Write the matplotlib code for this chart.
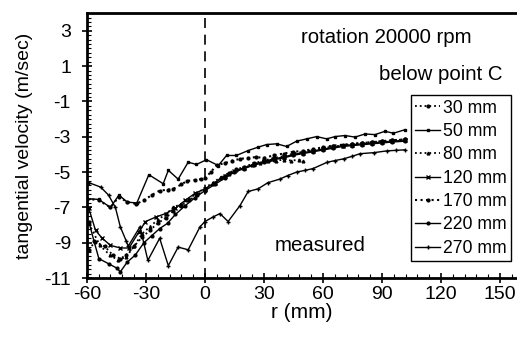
import matplotlib
matplotlib.use('Agg')
import matplotlib.pyplot as plt
from matplotlib.ticker import MultipleLocator

plt.rcParams['font.family'] = ['Liberation Sans', 'DejaVu Sans']
plt.rcParams['axes.unicode_minus'] = False

# 30 mm - dotted, dot markers
x30 = [-59, -55.9, -51, -46.8, -43, -40, -36, -32, -28, -24, -20, -16, -12, -8, -4, 0, 4, 8, 12, 16, 20,
       25, 30, 35, 40, 45, 50, 55, 60, 65, 70, 75, 80, 85, 90, 95, 101.7]
y30 = [-9.4, -8.95, -9.2, -9.7, -9.9, -9.7, -9.2, -8.7, -8.3, -7.9, -7.6, -7.2, -6.9, -6.6, -6.3, -6.0, -5.7,
       -5.35, -5.05, -4.85, -4.7, -4.5, -4.35, -4.2, -4.1, -3.95, -3.85, -3.75, -3.65, -3.55, -3.5, -3.4,
       -3.35, -3.3, -3.25, -3.2, -3.15]

# 50 mm - solid, small markers (top curve)
x50 = [-60, -54, -48, -43.7, -39.5, -34.6, -28.5, -21.2, -18.6, -13.6, -8.5, -4.3, 0.8, 6.8, 11, 16, 22, 27,
       31.4, 36.5, 41.5, 46.6, 51.7, 56.8, 61.9, 66.1, 71.2, 76.3, 81.4, 86.4, 91.5, 95.8, 101.7]
y50 = [-6.5, -6.55, -7.0, -6.3, -6.7, -6.75, -5.15, -5.66, -4.9, -5.4, -4.44, -4.57, -4.3, -4.63, -4.06,
       -4.06, -3.78, -3.59, -3.44, -3.4, -3.55, -3.25, -3.12, -2.99, -3.12, -2.99, -2.93, -3.02, -2.84,
       -2.88, -2.69, -2.8, -2.6]

# 80 mm - dotted, ends near 50 mm
x80 = [-59, -53.4, -48.3, -44, -40, -36, -32, -28, -24, -20, -16, -12, -8, -4, 0, 4, 8, 12, 16, 20, 24, 28,
       32, 36, 40, 44, 48, 50]
y80 = [-7.9, -9.15, -9.7, -10.0, -9.8, -9.2, -8.5, -8.1, -7.7, -7.4, -7.0, -6.8, -6.5, -6.2, -5.9, -5.6,
       -5.3, -5.1, -4.9, -4.75, -4.6, -4.5, -4.4, -4.35, -4.3, -4.35, -4.3, -4.4]

# 120 mm - solid, x markers
x120 = [-59, -55.6, -52.2, -48, -43, -38.6, -33.6, -30.2, -25, -20, -15, -10, -5, 0, 5, 10, 15, 20, 25, 30,
        35, 40, 45, 50, 55, 60, 65, 70, 75, 80, 85, 90, 95, 101.7]
y120 = [-7.06, -8.3, -8.75, -9.15, -9.3, -9.3, -8.4, -7.8, -7.55, -7.35, -7.05, -6.6, -6.2, -5.95, -5.6,
        -5.25, -4.95, -4.75, -4.55, -4.4, -4.25, -4.15, -4.0, -3.9, -3.8, -3.7, -3.6, -3.5, -3.45, -3.4,
        -3.35, -3.3, -3.25, -3.2]

# 170 mm - dotted (upper dotted curve)
x170 = [-60, -54, -48, -43.7, -39.5, -35, -31, -27, -23, -19, -16, -12, -9, -5, -2, 0, 3, 6, 10, 14, 18,
        22, 26, 30, 35, 40, 45, 50, 55, 60, 65, 70, 75, 80, 85, 90, 95, 101.7]
y170 = [-6.5, -6.6, -7.0, -6.4, -6.7, -6.8, -6.6, -6.3, -6.05, -6.0, -5.95, -5.7, -5.5, -5.45, -5.4, -5.35,
        -5.0, -4.6, -4.5, -4.35, -4.25, -4.2, -4.15, -4.2, -4.05, -3.95, -3.85, -3.8, -3.7, -3.6, -3.5,
        -3.45, -3.4, -3.35, -3.3, -3.25, -3.2, -3.15]

# 220 mm - solid, dot markers (deepest minimum)
x220 = [-59, -56.4, -53.9, -48.8, -44.6, -43, -39.5, -35.4, -31, -27, -23, -19, -15, -10, -5, 0, 5, 10,
        15, 20, 25, 30, 35, 40, 45, 50, 55, 60, 65, 70, 75, 80, 85, 90, 95, 101.7]
y220 = [-7.8, -8.9, -9.9, -10.2, -10.45, -10.65, -10.1, -9.7, -9.0, -8.6, -8.2, -7.9, -7.4, -6.9, -6.45,
        -6.05, -5.7, -5.35, -5.0, -4.8, -4.6, -4.45, -4.3, -4.2, -4.05, -3.95, -3.85, -3.75, -3.65, -3.55,
        -3.5, -3.45, -3.4, -3.35, -3.3, -3.25]

# 270 mm - solid, + markers (lowest on the right)
x270 = [-59, -53, -49, -45.5, -43, -40, -39, -33, -29, -23, -18.6, -13.6, -8.5, -2.5, 0, 4, 7.6, 11.8,
        17.8, 22, 27, 32, 38, 42, 46.6, 51, 55, 62, 66, 70.5, 75, 78.8, 85.8, 92.5, 97, 101.7]
y270 = [-5.6, -5.85, -6.3, -7.0, -8.1, -8.9, -9.2, -8.1, -10.0, -8.75, -10.3, -9.25, -9.4, -8.1, -7.8,
        -7.55, -7.35, -7.8, -6.9, -6.1, -5.95, -5.6, -5.4, -5.2, -5.0, -4.9, -4.8, -4.45, -4.35, -4.25,
        -4.1, -3.96, -3.9, -3.8, -3.77, -3.74]

xticks = [-60, -30, 0, 30, 60, 90, 120, 150]
yticks = [3, 1, -1, -3, -5, -7, -9, -11]

fig = plt.figure(figsize=(5.17, 3.37), dpi=100)
ax = fig.add_axes([0.168, 0.175, 0.832, 0.786])

ax.plot(x30, y30, color='black', ls=':', lw=1.3, marker='o', ms=2, label='30 mm')
ax.plot(x50, y50, color='black', ls='-', lw=1.0, marker='s', ms=2, label='50 mm')
ax.plot(x80, y80, color='black', ls=':', lw=1.3, marker='^', ms=2, label='80 mm')
ax.plot(x120, y120, color='black', ls='-', lw=1.0, marker='x', ms=2.5, label='120 mm')
ax.plot(x170, y170, color='black', ls=':', lw=1.5, marker='o', ms=2, label='170 mm')
ax.plot(x220, y220, color='black', ls='-', lw=1.0, marker='o', ms=2, label='220 mm')
ax.plot(x270, y270, color='black', ls='-', lw=1.0, marker='+', ms=3, label='270 mm')

ax.axvline(0, color='black', ls=(0, (6, 4)), lw=1.2)

ax.set_xlim(-60, 158.6)
ax.set_ylim(-11, 4)
ax.set_xticks(xticks)
ax.set_yticks(yticks)
ax.xaxis.set_minor_locator(MultipleLocator(6))
ax.yaxis.set_minor_locator(MultipleLocator(0.25))
ax.tick_params(which='major', direction='inout', length=7, width=1.2, labelsize=14, color='black')
ax.tick_params(which='minor', direction='in', length=3, width=0.8)
ax.tick_params(axis='x', pad=2)
ax.tick_params(axis='y', pad=8)

for s in ['left', 'bottom', 'top']:
    ax.spines[s].set_linewidth(2)
ax.spines['right'].set_visible(False)

ax.set_xlabel('r (mm)', fontsize=15, labelpad=0)
ax.set_ylabel('tangential velocity (m/sec)', fontsize=14, labelpad=8)

ax.text(92, 2.6, 'rotation 20000 rpm', fontsize=14.7, ha='center', va='center')
ax.text(120, 0.5, 'below point C', fontsize=14.7, ha='center', va='center')
ax.text(58.5, -9.15, 'measured', fontsize=14.7, ha='center', va='center')

leg = ax.legend(loc='upper left', bbox_to_anchor=(0.753, 0.69), fontsize=12.7, fancybox=False,
                edgecolor='black', framealpha=1, handlelength=1.4, handletextpad=0.15,
                labelspacing=0.36, borderpad=0.25, borderaxespad=0)
leg.get_frame().set_linewidth(1.0)

fig.savefig('out.png', dpi=100)
